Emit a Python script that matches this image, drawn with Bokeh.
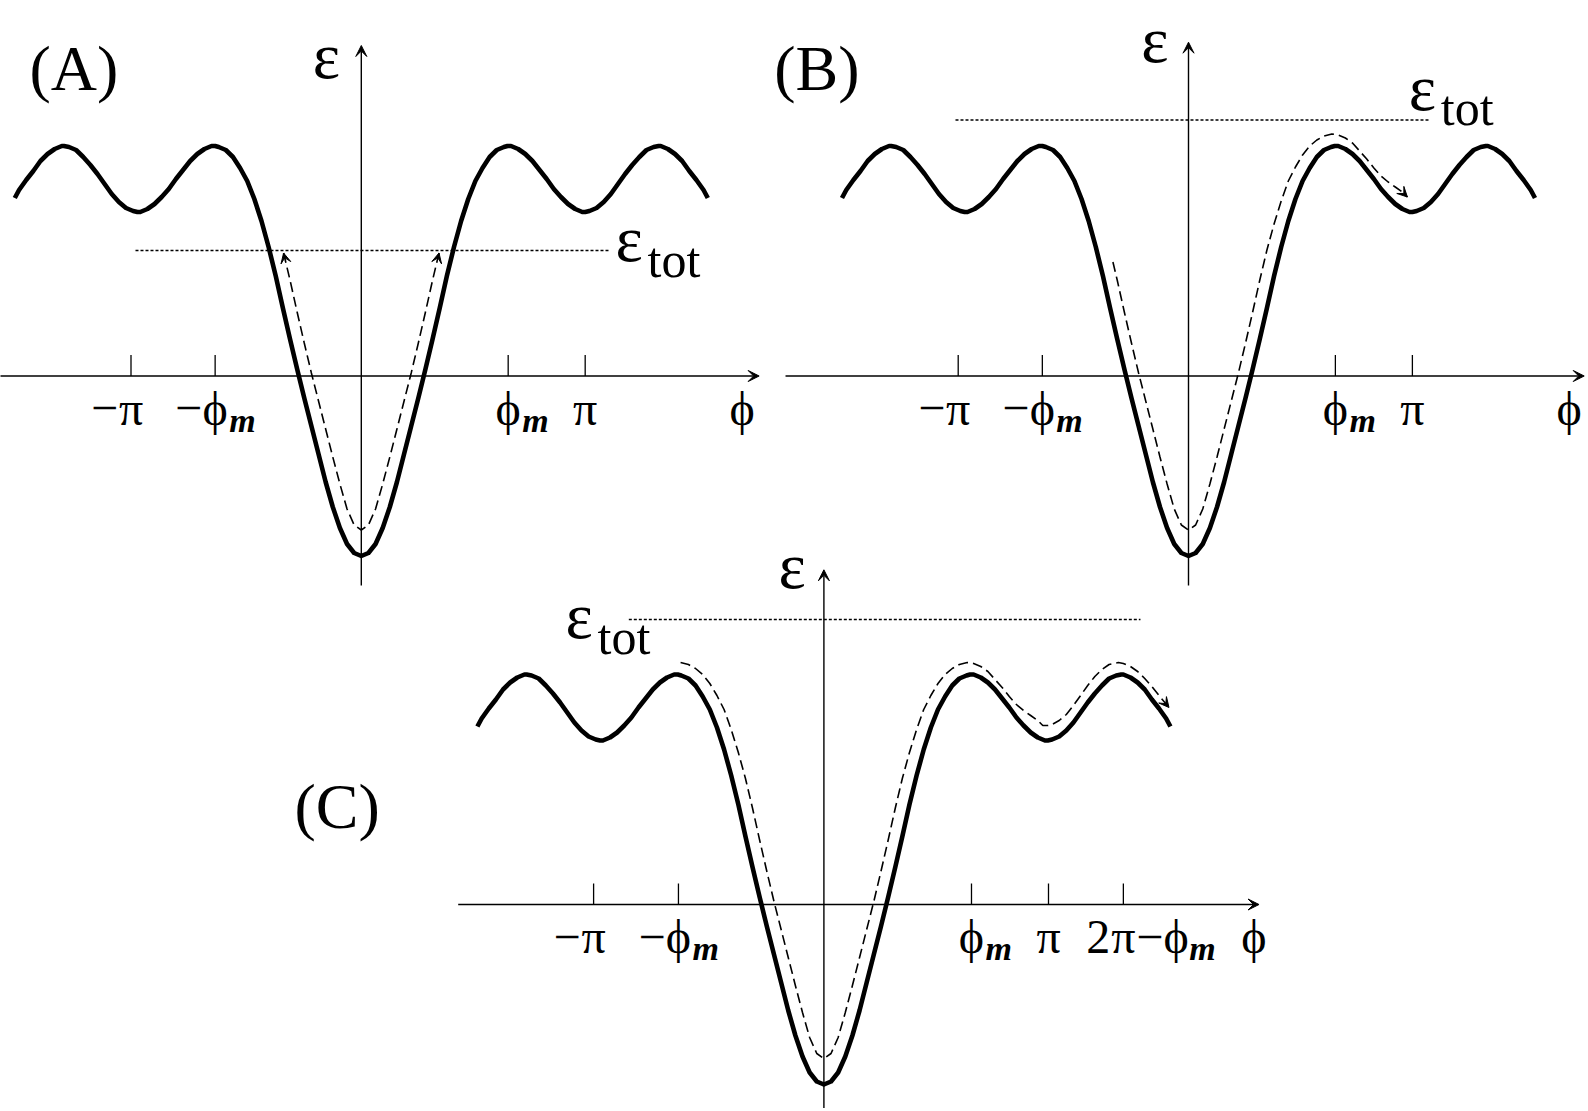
from bokeh.plotting import figure
from bokeh.models import Range1d, Arrow, VeeHead
from bokeh.core.properties import value
from bokeh.embed import file_html
from bokeh.resources import INLINE

# ---------------- data ----------------
# potential energy curve  eps(phi), phi in radians
phi_solid = [-4.86, -4.8, -4.7, -4.6, -4.5, -4.4, -4.3, -4.2, -4.17, -4.1,
             -4.0, -3.9, -3.8, -3.7, -3.6, -3.5, -3.4, -3.3, -3.2, -3.14,
             -3.1, -3.0, -2.9, -2.8, -2.7, -2.6, -2.5, -2.4, -2.3, -2.2,
             -2.1, -2.05, -2.0, -1.9, -1.8, -1.7, -1.6, -1.5, -1.4, -1.3,
             -1.2, -1.1, -1.0, -0.9, -0.8, -0.7, -0.6, -0.5, -0.4, -0.3,
             -0.2, -0.1, 0.0,
             0.1, 0.2, 0.3, 0.4, 0.5, 0.6, 0.7, 0.8, 0.9, 1.0,
             1.1, 1.2, 1.3, 1.4, 1.5, 1.6, 1.7, 1.8, 1.9, 2.0,
             2.05, 2.1, 2.2, 2.3, 2.4, 2.5, 2.6, 2.7, 2.8, 2.9,
             3.0, 3.1, 3.14, 3.2, 3.3, 3.4, 3.5, 3.6, 3.7, 3.8,
             3.9, 4.0, 4.1, 4.17, 4.2, 4.3, 4.4, 4.5, 4.6, 4.7,
             4.8, 4.86]
eps_solid = [1.78, 1.86, 1.96, 2.05, 2.15, 2.22, 2.27, 2.30, 2.30, 2.29,
             2.26, 2.19, 2.11, 2.02, 1.92, 1.82, 1.74, 1.68, 1.65, 1.64,
             1.64, 1.67, 1.72, 1.79, 1.87, 1.97, 2.06, 2.15, 2.22, 2.27,
             2.30, 2.30, 2.29, 2.26, 2.19, 2.08, 1.95, 1.77, 1.55, 1.29,
             1.00, 0.68, 0.37, 0.07, -0.22, -0.50, -0.78, -1.06, -1.31, -1.52,
             -1.68, -1.77, -1.80,
             -1.77, -1.68, -1.52, -1.31, -1.06, -0.78, -0.50, -0.22, 0.07, 0.37,
             0.68, 1.00, 1.29, 1.55, 1.77, 1.95, 2.08, 2.19, 2.26, 2.29,
             2.30, 2.30, 2.27, 2.22, 2.15, 2.06, 1.97, 1.87, 1.79, 1.72,
             1.67, 1.64, 1.64, 1.65, 1.68, 1.74, 1.82, 1.92, 2.02, 2.11,
             2.19, 2.26, 2.29, 2.30, 2.30, 2.27, 2.22, 2.15, 2.05, 1.96,
             1.86, 1.78]

# trajectory (dashed) at total energy, phi in radians
phi_dash = [-2.01, -1.9, -1.8, -1.7, -1.6, -1.5, -1.4, -1.3, -1.2, -1.1,
            -1.09, -1.06, -1.0, -0.9, -0.8, -0.7, -0.6, -0.5, -0.4, -0.3,
            -0.2, -0.1, 0.0,
            0.1, 0.2, 0.3, 0.4, 0.5, 0.6, 0.7, 0.8, 0.9, 1.0,
            1.06, 1.09, 1.1, 1.2, 1.3, 1.4, 1.5, 1.6, 1.7, 1.8,
            1.9, 2.01, 2.1, 2.2, 2.3, 2.4, 2.5, 2.6, 2.7, 2.8,
            2.9, 3.0, 3.07, 3.14, 3.2, 3.3, 3.4, 3.5, 3.6, 3.7,
            3.8, 3.9, 4.0, 4.13, 4.2, 4.3, 4.4, 4.5, 4.6, 4.7,
            4.84]
eps_dash = [2.42, 2.40, 2.36, 2.30, 2.21, 2.09, 1.95, 1.75, 1.52, 1.26,
            1.23, 1.14, 0.96, 0.64, 0.33, 0.03, -0.25, -0.53, -0.81, -1.08,
            -1.33, -1.49, -1.54,
            -1.49, -1.33, -1.08, -0.81, -0.53, -0.25, 0.03, 0.33, 0.64, 0.96,
            1.14, 1.23, 1.26, 1.52, 1.75, 1.95, 2.09, 2.21, 2.30, 2.36,
            2.40, 2.42, 2.41, 2.38, 2.33, 2.25, 2.17, 2.08, 2.00, 1.94,
            1.89, 1.84, 1.79, 1.79, 1.80, 1.84, 1.90, 1.99, 2.09, 2.19,
            2.28, 2.35, 2.40, 2.42, 2.41, 2.38, 2.33, 2.26, 2.18, 2.09,
            1.97]

# total energy of each case
etot_A = 1.255
etot_B = 2.56
etot_C = 2.85

# part of the trajectory drawn in each case (phi from, phi to)
dash_span_A = [-1.09, 1.09]
dash_span_B = [-1.06, 3.07]
dash_span_C = [-2.01, 4.84]

# tick positions and labels
ticks_AB = [-3.23, -2.05, 2.06, 3.14]
tick_pre_AB = ["\u2212", "\u2212", "", ""]
tick_main_AB = ["\u03c0", "\u03d5", "\u03d5", "\u03c0"]
tick_post_AB = ["", "", "", ""]
tick_sub_AB = ["", "m", "m", ""]

ticks_C = [-3.23, -2.04, 2.07, 3.15, 4.20]
tick_pre_C = ["\u2212", "\u2212", "", "", "2"]
tick_main_C = ["\u03c0", "\u03d5", "\u03d5", "\u03c0", "\u03c0"]
tick_post_C = ["", "", "", "", "\u2212\u03d5"]
tick_sub_C = ["", "m", "m", "", "m"]

panel_titles = ["(A)", "(B)", "(C)"]
x_label = "\u03d5"
y_label = "\u03b5"
etot_label = "\u03b5"
etot_sub = "tot"

# ---------------- layout / style ----------------
W, H = 1586, 1108
SX, SY = 71.3, 100.0          # px per radian, px per energy unit
FONT = "Liberation Serif"
BASE = 0.38                   # baseline correction (fraction of font size)

p = figure(width=W, height=H, output_backend="svg", toolbar_location=None,
           x_range=Range1d(0, W), y_range=Range1d(H, 0),
           x_axis_type=None, y_axis_type=None, min_border=0)
p.grid.visible = False
p.outline_line_color = None
p.background_fill_color = "white"
p.border_fill_color = "white"

panels = [
    dict(key="A", ox=360.8, oy=375.5, title=panel_titles[0],
         ticks=ticks_AB, pre=tick_pre_AB, main=tick_main_AB, post=tick_post_AB, sub=tick_sub_AB,
         etot=etot_A, span=dash_span_A, heads=("start", "end"),
         xaxis=(-5.1, 5.58), yaxis=(-2.095, 3.305),
         title_xy=(-4.654, 2.835), ylab_xy=(-0.488, 2.955), xlab_x=5.34,
         etot_line=(-3.167, 3.471), etot_lab=(3.565, 1.122)),
    dict(key="B", ox=1188.0, oy=375.5, title=panel_titles[1],
         ticks=ticks_AB, pre=tick_pre_AB, main=tick_main_AB, post=tick_post_AB, sub=tick_sub_AB,
         etot=etot_B, span=dash_span_B, heads=("end",),
         xaxis=(-5.652, 5.55), yaxis=(-2.095, 3.338),
         title_xy=(-5.811, 2.835), ylab_xy=(-0.47, 3.115), xlab_x=5.34,
         etot_line=(-3.268, 3.37), etot_lab=(3.09, 2.638)),
    dict(key="C", ox=823.4, oy=904.0, title=panel_titles[2],
         ticks=ticks_C, pre=tick_pre_C, main=tick_main_C, post=tick_post_C, sub=tick_sub_C,
         etot=etot_C, span=dash_span_C, heads=("end",),
         xaxis=(-5.129, 6.103), yaxis=(-2.1, 3.347),
         title_xy=(-7.425, 0.74), ylab_xy=(-0.445, 3.14), xlab_x=6.03,
         etot_line=(-2.736, 4.44), etot_lab=(-3.624, 2.64)),
]


def txt(k, x, y, s, size, align="left", style="normal"):
    p.text(x=[x], y=[y + BASE * size / SY], text=[s], x_range_name=k, y_range_name=k,
           text_font=value(FONT), text_font_size=value(f"{size}px"),
           text_align=align, text_baseline="alphabetic",
           text_font_style=style, text_color="black")


TICK_FS, SUB_FS = 48, 34
for c in panels:
    k = c["key"]
    fx, fy = c["ox"], c["oy"]
    p.extra_x_ranges[k] = Range1d(-fx / SX, (W - fx) / SX)
    p.extra_y_ranges[k] = Range1d(-(H - fy) / SY, fy / SY)

    # axes with arrow heads
    p.add_layout(Arrow(end=VeeHead(size=11, fill_color="black", line_color="black", line_width=1),
                       x_start=c["xaxis"][0], y_start=0, x_end=c["xaxis"][1], y_end=0,
                       line_width=1.4, line_color="black", x_range_name=k, y_range_name=k))
    p.add_layout(Arrow(end=VeeHead(size=11, fill_color="black", line_color="black", line_width=1),
                       x_start=0, y_start=c["yaxis"][0], x_end=0, y_end=c["yaxis"][1],
                       line_width=1.4, line_color="black", x_range_name=k, y_range_name=k))

    # ticks
    t = c["ticks"]
    p.segment(x0=t, y0=[0] * len(t), x1=t, y1=[21 / SY] * len(t), line_width=1.3,
              line_color="black", x_range_name=k, y_range_name=k)
    ylab = -50.5 / SY
    ysub = -57.0 / SY
    for pos, pre, mn, post, sb in zip(t, c["pre"], c["main"], c["post"], c["sub"]):
        txt(k, pos, ylab, mn, TICK_FS, "center")
        if pre:
            txt(k, pos - 13 / SX, ylab, pre, TICK_FS, "right")
        if post:
            txt(k, pos + 13 / SX, ylab, post, TICK_FS, "left")
        if sb:
            off = 14 + (52 if post else 0)
            txt(k, pos + off / SX, ysub, sb, SUB_FS, "left", "bold italic")

    # axis labels
    txt(k, c["xlab_x"], ylab, x_label, TICK_FS, "center")
    txt(k, c["ylab_xy"][0], c["ylab_xy"][1], y_label, 65, "center")
    # panel title
    txt(k, c["title_xy"][0], c["title_xy"][1], c["title"], 64, "left")

    # total energy level
    e = c["etot"]
    p.line(list(c["etot_line"]), [e, e], line_dash="3 2", line_width=1.3,
           line_color="black", x_range_name=k, y_range_name=k)
    ex, ey = c["etot_lab"]
    txt(k, ex, ey, etot_label, 65, "left")
    txt(k, ex + 32 / SX, ey - 15 / SY, etot_sub, 50, "left")

    # potential curve
    p.line(phi_solid, eps_solid, line_width=4.6, line_color="black",
           line_join="round", x_range_name=k, y_range_name=k)

    # trajectory
    lo, hi = c["span"]
    dx = [a for a in phi_dash if lo - 1e-9 <= a <= hi + 1e-9]
    dy = [b for a, b in zip(phi_dash, eps_dash) if lo - 1e-9 <= a <= hi + 1e-9]
    p.line(dx, dy, line_width=1.6, line_dash="10 5", line_color="black",
           x_range_name=k, y_range_name=k)
    for h in c["heads"]:
        if h == "end":
            xs, ys, xe, ye = dx[-2], dy[-2], dx[-1], dy[-1]
        else:
            xs, ys, xe, ye = dx[1], dy[1], dx[0], dy[0]
        p.add_layout(Arrow(end=VeeHead(size=10, fill_color="black", line_color="black", line_width=1),
                           x_start=xs, y_start=ys, x_end=xe, y_end=ye,
                           line_alpha=0, x_range_name=k, y_range_name=k))

open("out.html", "w").write(file_html(p, INLINE))
